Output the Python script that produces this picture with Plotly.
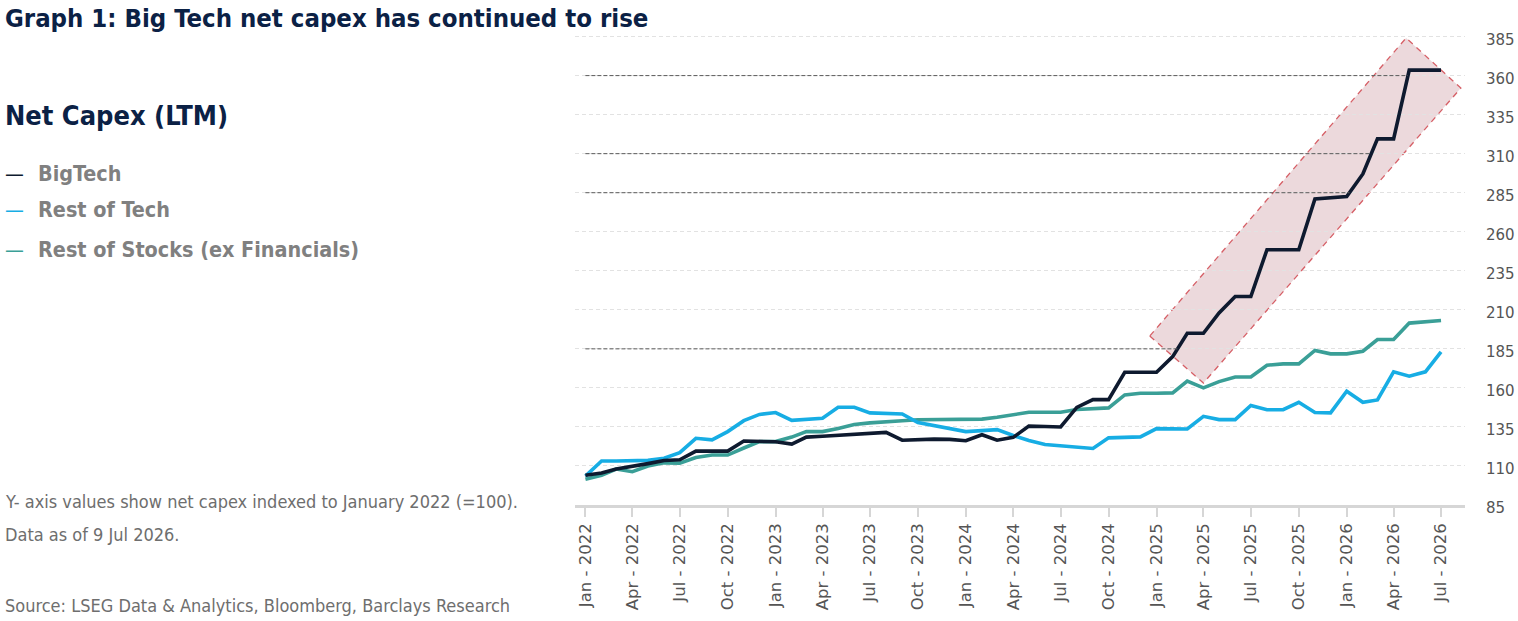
import plotly.graph_objects as go
import pandas as pd

# ---------------- data ----------------
months = pd.date_range("2022-01-01", "2026-07-01", freq="MS")

bigtech = [104, 105.5, 108, 109.5, 111.5, 113.5, 114, 119.5, 119.5, 119.5,
           126, 125.5, 125.5, 124, 128.5, 129, 129.5, 130, 130.5, 131.5,
           126.5, 127, 127.2, 127, 126.2, 130, 126.5, 128.3, 135.5, 135.3,
           135, 147.5, 152.5, 152.5, 170, 170, 170, 180, 195, 195,
           208, 218.5, 218.5, 248.5, 248.5, 248.5, 281, 281.5, 282.5, 297,
           319.5, 319.5, 363.5, 363.5, 363.5]

rest_of_tech = [103.5, 113.2, 113.2, 113.2, 113.6, 115, 118.5, 127.7, 126.7, 132,
                139, 143, 144.2, 139.2, 140, 140.6, 147.6, 147.6, 144, 143.6,
                143.3, 137.8, 135.8, 134, 132, 132.6, 133.3, 129.5, 126.3, 123.8,
                122.8, 122, 121.2, 128, 128.2, 128.6, 133.9, 133.8, 133.7, 141.8,
                139.7, 139.7, 148.7, 146, 146.1, 150.8, 144.2, 144, 157.9, 150.8,
                152.3, 170.3, 167.5, 170.3, 183]

rest_of_stocks = [101.5, 104, 108, 106.3, 110, 112, 111.8, 115.4, 117, 117,
                  121.5, 125.6, 125.6, 128.5, 132, 132, 134, 136.5, 137.6, 138.5,
                  139, 139.6, 139.8, 139.9, 139.9, 140, 141.2, 142.7, 144.4, 144.4,
                  144.4, 146.2, 146.8, 147.2, 155.5, 156.6, 156.6, 156.8, 164.3, 160,
                  164, 167, 167, 174.5, 175.4, 175.4, 184, 181.8, 181.8, 183.5,
                  191, 191, 201.5, 202.5, 203.2]

series_names = ["BigTech", "Rest of Tech", "Rest of Stocks (ex Financials)"]

tick_dates = pd.date_range("2022-01-01", "2026-07-01", freq="QS")
tick_labels = ["Jan - 2022", "Apr - 2022", "Jul - 2022", "Oct - 2022",
               "Jan - 2023", "Apr - 2023", "Jul - 2023", "Oct - 2023",
               "Jan - 2024", "Apr - 2024", "Jul - 2024", "Oct - 2024",
               "Jan - 2025", "Apr - 2025", "Jul - 2025", "Oct - 2025",
               "Jan - 2026", "Apr - 2026", "Jul - 2026"]
y_ticks = [85, 110, 135, 160, 185, 210, 235, 260, 285, 310, 335, 360, 385]

# levels marked with dark dashed reference lines (run until BigTech reaches them)
ref_levels = [185, 285, 310, 360]

# highlighted trend band (corners in data coordinates)
band_dates = ["2024-12-19", "2025-04-01", "2026-08-08", "2026-04-25"]
band_values = [193.2, 163.1, 352.0, 384.1]

# ---------------- style ----------------
C_BIG = "#0e1a2f"
C_TECH = "#17ade4"
C_STOCK = "#3a9f97"
NAVY = "#0b2145"
GREY_TXT = "#808080"
NOTE_TXT = "#6e6e6e"
TICK_TXT = "#555555"
COND = "DejaVu Sans Condensed, DejaVu Sans, sans-serif"

W, H = 1518, 621
L, R, T, B = 575, 53, 35, 116
PW, PH = W - L - R, H - T - B
XOFF = -2  # annotation text inset compensation


def px(xp):
    return (xp + XOFF - L) / PW


def py(yp):
    return 1 - (yp - T) / PH


fig = go.Figure()

fig.add_trace(go.Scatter(x=months, y=rest_of_stocks, mode="lines", name=series_names[2],
                         line=dict(color=C_STOCK, width=3.6)))
fig.add_trace(go.Scatter(x=months, y=rest_of_tech, mode="lines", name=series_names[1],
                         line=dict(color=C_TECH, width=3.6)))
fig.add_trace(go.Scatter(x=months, y=bigtech, mode="lines", name=series_names[0],
                         line=dict(color=C_BIG, width=3.6)))

# band
path = "M " + " L ".join(f"{d},{v}" for d, v in zip(band_dates, band_values)) + " Z"
fig.add_shape(type="path", path=path, xref="x", yref="y", layer="below",
              fillcolor="#ecd9dc", line=dict(color="#d65f66", width=1.3, dash="6px,5px"))

# reference lines up to where BigTech first reaches each level
for lvl in ref_levels:
    end = months[-1]
    for i in range(1, len(bigtech)):
        if bigtech[i] >= lvl > bigtech[i - 1]:
            frac = (lvl - bigtech[i - 1]) / (bigtech[i] - bigtech[i - 1])
            end = months[i - 1] + (months[i] - months[i - 1]) * frac
            break
    fig.add_shape(type="line", xref="x", yref="y", x0=months[0], x1=end, y0=lvl, y1=lvl,
                  layer="above", line=dict(color="#5a5a5a", width=1, dash="4px,2px"))

ann = []
ann.append(dict(text="<b>Graph 1: Big Tech net capex has continued to rise</b>",
                x=px(5), y=py(18), xref="paper", yref="paper", xanchor="left", yanchor="middle",
                showarrow=False, font=dict(family=COND, size=25.5, color=NAVY)))
ann.append(dict(text="<b>Net Capex (LTM)</b>",
                x=px(5), y=py(115.5), xref="paper", yref="paper", xanchor="left", yanchor="middle",
                showarrow=False, font=dict(family=COND, size=27, color=NAVY)))
for name, col, yy in zip(series_names, [C_BIG, C_TECH, C_STOCK], [174, 209.5, 249.5]):
    ann.append(dict(text="—", x=px(5), y=py(yy), xref="paper", yref="paper",
                    xanchor="left", yanchor="middle", showarrow=False,
                    font=dict(family=COND, size=21, color=col)))
    ann.append(dict(text=f"<b>{name}</b>", x=px(38), y=py(yy), xref="paper", yref="paper",
                    xanchor="left", yanchor="middle", showarrow=False,
                    font=dict(family=COND, size=21.4, color=GREY_TXT)))
for txt, yy in [("Y- axis values show net capex indexed to January 2022 (=100).", 501.5),
                ("Data as of 9 Jul 2026.", 534),
                ("Source: LSEG Data &amp; Analytics, Bloomberg, Barclays Research", 605)]:
    ann.append(dict(text=txt, x=px(5), y=py(yy), xref="paper", yref="paper",
                    xanchor="left", yanchor="middle", showarrow=False,
                    font=dict(family=COND, size=18, color=NOTE_TXT)))

fig.update_layout(
    width=W, height=H, autosize=False,
    margin=dict(l=L, r=R, t=T, b=B, pad=0),
    paper_bgcolor="white", plot_bgcolor="white",
    showlegend=False,
    annotations=ann,
    xaxis=dict(type="date", range=["2021-12-12", "2026-08-16"], automargin=False,
               tickmode="array", tickvals=list(tick_dates), ticktext=tick_labels,
               tickangle=-90, ticks="outside", ticklen=9, tickwidth=1.5, tickcolor="#d6d6d6",
               showline=True, linecolor="#d6d6d6", linewidth=2.5,
               showgrid=False, zeroline=False,
               tickfont=dict(family="DejaVu Sans, sans-serif", size=16.5, color=TICK_TXT)),
    yaxis=dict(side="right", range=[85, 386], tickmode="array", tickvals=y_ticks, automargin=False,
               showgrid=True, gridcolor="#e2e2e2", gridwidth=1, griddash="4px,3px",
               zeroline=False, showline=False, ticks="",
               ticklabelstandoff=20, ticklabelshift=3,
               tickfont=dict(family="DejaVu Sans, sans-serif", size=15, color=TICK_TXT)),
)

fig.write_html("out.html")
